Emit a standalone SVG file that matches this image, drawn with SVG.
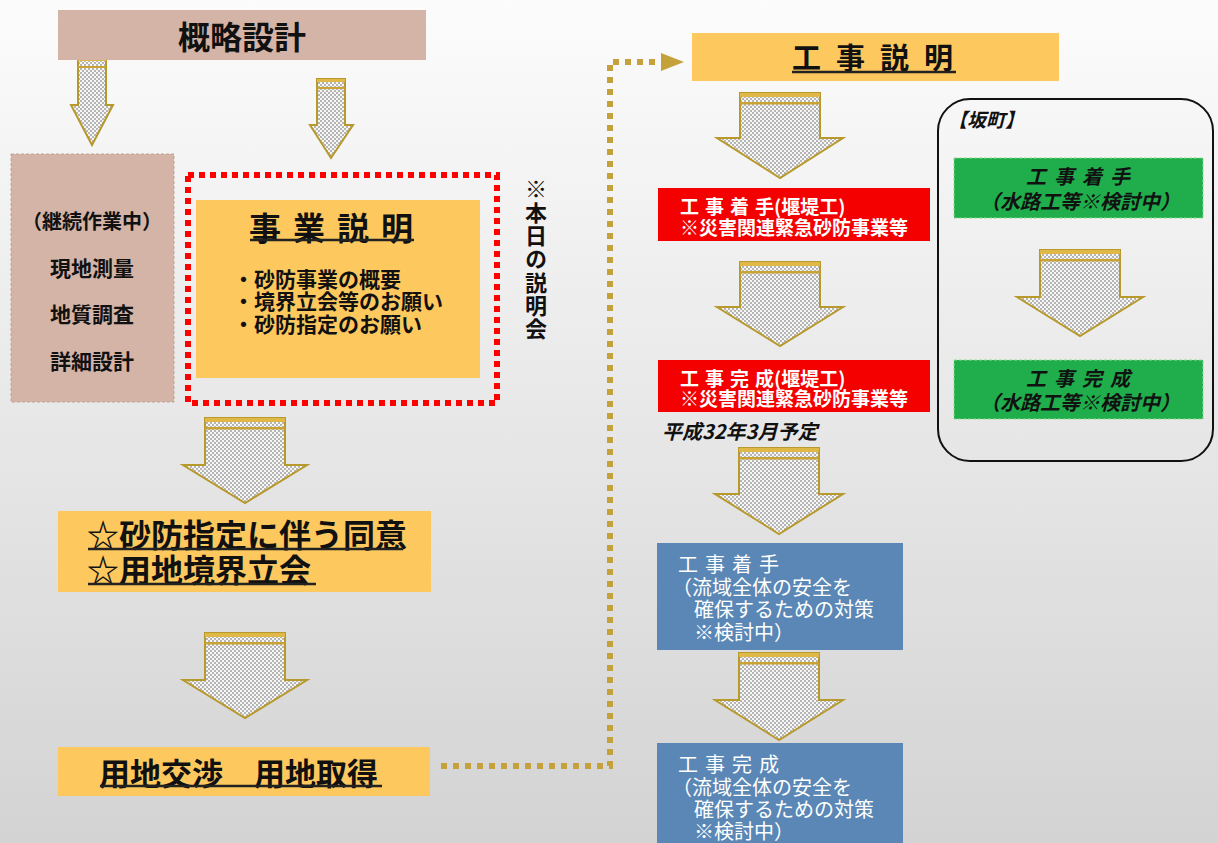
<svg xmlns="http://www.w3.org/2000/svg" width="1218" height="843" viewBox="0 0 1218 843">
<defs>
<linearGradient id="bg" x1="0" y1="0" x2="0" y2="1">
<stop offset="0" stop-color="#fcfcfc"/>
<stop offset="1" stop-color="#d3d3d3"/>
</linearGradient>
<pattern id="dots" width="4" height="4" patternUnits="userSpaceOnUse">
<rect width="4" height="4" fill="#f6f6f6"/>
<circle cx="1" cy="1" r="0.75" fill="#555"/>
<circle cx="3" cy="3" r="0.75" fill="#555"/>
</pattern>
<style>
text{font-family:"Noto Sans CJK JP","Noto Sans CJK SC",sans-serif;dominant-baseline:central}
.b{font-weight:bold;fill:#111}
.w{fill:#fff}
.it{font-style:italic;font-weight:bold;fill:#111}
.pink{fill:#d3b4a7}
.yel{fill:#fdc85e}
.red{fill:#f40000}
.blue{fill:#5a87b5}
.green{fill:#1fae4b;stroke:#8fdc8a;stroke-width:1;stroke-dasharray:3 2}
.ul{stroke:#222;stroke-width:2.5}
.arr{fill:url(#dots);stroke:#b8992c;stroke-width:2;stroke-linejoin:miter}
.bar{fill:#e0b848}
.bar2{fill:#c9a435}
.dotline{fill:none;stroke:#c4a13a;stroke-width:6;stroke-dasharray:6 6}
</style>
</defs>
<rect width="1218" height="843" fill="url(#bg)"/>

<g id="connectors">
<path class="dotline" d="M441 766 H610 V62 H660"/>
<polygon points="661,53 684,62 661,71" fill="#c4a13a"/>
<g id="arrow-a1"><path class="arr" d="M78 58 H106 V105 H113 L92 145 L71 105 H78 Z"/><rect class="bar" x="78" y="58" width="28" height="3"/><rect class="bar2" x="78" y="66" width="28" height="2"/></g>
<g id="arrow-a2"><path class="arr" d="M317 79 H345 V125 H353 L331 158 L310 125 H317 Z"/><rect class="bar" x="317" y="79" width="28" height="3"/><rect class="bar2" x="317" y="87" width="28" height="2"/></g>
<g id="arrow-a3"><path class="arr" d="M205 418 H285 V465 H307 L245 503 L183 465 H205 Z"/><rect class="bar" x="205" y="418" width="80" height="4"/><rect class="bar2" x="205" y="427" width="80" height="2.5"/></g>
<g id="arrow-a4"><path class="arr" d="M205 633 H285 V680 H307 L245 718 L183 680 H205 Z"/><rect class="bar" x="205" y="633" width="80" height="4"/><rect class="bar2" x="205" y="642" width="80" height="2.5"/></g>
<g id="arrow-r1"><path class="arr" d="M740 93 H820 V138 H843 L780 178 L717 138 H740 Z"/><rect class="bar" x="740" y="93" width="80" height="4"/><rect class="bar2" x="740" y="102" width="80" height="2.5"/></g>
<g id="arrow-r2"><path class="arr" d="M740 262 H820 V307 H843 L780 346 L717 307 H740 Z"/><rect class="bar" x="740" y="262" width="80" height="4"/><rect class="bar2" x="740" y="271" width="80" height="2.5"/></g>
<g id="arrow-r3"><path class="arr" d="M739 448 H819 V494 H843 L779 534 L715 494 H739 Z"/><rect class="bar" x="739" y="448" width="80" height="4"/><rect class="bar2" x="739" y="457" width="80" height="2.5"/></g>
<g id="arrow-r4"><path class="arr" d="M739 653 H819 V700 H843 L779 740 L715 700 H739 Z"/><rect class="bar" x="739" y="653" width="80" height="4"/><rect class="bar2" x="739" y="662" width="80" height="2.5"/></g>
<g id="arrow-g"><path class="arr" d="M1040 250 H1120 V297 H1143 L1080 336 L1017 297 H1040 Z"/><rect class="bar" x="1040" y="250" width="80" height="4"/><rect class="bar2" x="1040" y="259" width="80" height="2.5"/></g>
</g>

<g id="node-gairyaku">
<rect class="pink" x="58" y="10" width="368" height="50"/>
<text class="b" x="242" y="35" font-size="32" text-anchor="middle">概略設計</text>
</g>

<g id="node-keizoku">
<rect class="pink" x="11" y="154" width="163" height="248" stroke="#bfa296" stroke-width="1" stroke-dasharray="3 2"/>
<text class="b" x="92" y="220" font-size="20" text-anchor="middle">（継続作業中）</text>
<text class="b" x="92" y="267" font-size="21" text-anchor="middle">現地測量</text>
<text class="b" x="92" y="313" font-size="21" text-anchor="middle">地質調査</text>
<text class="b" x="92" y="360" font-size="21" text-anchor="middle">詳細設計</text>
</g>

<g id="node-jigyo">
<rect x="188" y="175" width="309" height="228" fill="none" stroke="#ff0000" stroke-width="6" stroke-dasharray="6 5"/>
<rect class="yel" x="196" y="200" width="284" height="178"/>
<text class="b" x="249" y="226" font-size="32" letter-spacing="12">事業説明</text>
<line class="ul" x1="250" y1="240" x2="414" y2="240"/>
<text class="b" x="233" y="278" font-size="21">・砂防事業の概要</text>
<text class="b" x="233" y="300" font-size="21">・境界立会等のお願い</text>
<text class="b" x="233" y="323" font-size="21">・砂防指定のお願い</text>
</g>

<g id="note-honjitsu">
<text class="b" x="536" y="178" font-size="22" letter-spacing="1.3" writing-mode="vertical-rl" style="writing-mode:vertical-rl">※本日の説明会</text>
</g>

<g id="node-doui">
<rect class="yel" x="58" y="511" width="373" height="81"/>
<text class="b" x="87" y="533" font-size="32">☆砂防指定に伴う同意</text>
<line class="ul" x1="88" y1="549" x2="403" y2="549"/>
<text class="b" x="87" y="568" font-size="32">☆用地境界立会</text>
<line class="ul" x1="88" y1="584" x2="316" y2="584"/>
</g>

<g id="node-yochi">
<rect class="yel" x="58" y="747" width="372" height="49"/>
<text class="b" x="99" y="771" font-size="31">用地交渉　用地取得</text>
<line class="ul" x1="100" y1="786" x2="382" y2="786"/>
</g>

<g id="node-koji-setsumei">
<rect class="yel" x="692" y="33" width="367" height="48"/>
<text class="b" x="792" y="56" font-size="29" letter-spacing="15">工事説明</text>
<line class="ul" x1="792" y1="72" x2="956" y2="72"/>
</g>

<g id="node-red1">
<rect class="red" x="658" y="188" width="272" height="53"/>
<text class="b w" x="680" y="205" font-size="19" style="fill:#fff"><tspan letter-spacing="6">工事着</tspan>手(堰堤工)</text>
<text class="b w" x="680" y="226" font-size="19" style="fill:#fff">※災害関連緊急砂防事業等</text>
</g>

<g id="node-red2">
<rect class="red" x="658" y="360" width="272" height="52"/>
<text class="b w" x="680" y="377" font-size="19" style="fill:#fff"><tspan letter-spacing="6">工事完</tspan>成(堰堤工)</text>
<text class="b w" x="680" y="397" font-size="19" style="fill:#fff">※災害関連緊急砂防事業等</text>
</g>

<g id="note-yotei">
<text class="it" x="662" y="430" font-size="20">平成32年3月予定</text>
</g>

<g id="node-blue1">
<rect class="blue" x="657" y="543" width="246" height="107"/>
<text class="w" x="678" y="563" font-size="20" letter-spacing="7">工事着手</text>
<text class="w" x="672" y="586" font-size="20">（流域全体の安全を</text>
<text class="w" x="694" y="608" font-size="20">確保するための対策</text>
<text class="w" x="694" y="631" font-size="20">※検討中）</text>
</g>

<g id="node-blue2">
<rect class="blue" x="657" y="743" width="246" height="100"/>
<text class="w" x="678" y="763" font-size="20" letter-spacing="7">工事完成</text>
<text class="w" x="672" y="786" font-size="20">（流域全体の安全を</text>
<text class="w" x="694" y="808" font-size="20">確保するための対策</text>
<text class="w" x="694" y="830" font-size="20">※検討中）</text>
</g>

<g id="node-sakamachi">
<rect x="938" y="99" width="275" height="362" rx="32" ry="32" fill="none" stroke="#111" stroke-width="2"/>
<text class="it" x="948" y="118" font-size="19">【坂町】</text>
</g>

<g id="node-green1">
<rect class="green" x="954" y="158" width="249" height="60"/>
<text class="it" x="1026" y="175" font-size="20" letter-spacing="8">工事着手</text>
<text class="it" x="1080" y="200" font-size="20" text-anchor="middle">（水路工等※検討中）</text>
</g>

<g id="node-green2">
<rect class="green" x="954" y="360" width="249" height="59"/>
<text class="it" x="1026" y="377" font-size="20" letter-spacing="8">工事完成</text>
<text class="it" x="1080" y="401" font-size="20" text-anchor="middle">（水路工等※検討中）</text>
</g>
</svg>
